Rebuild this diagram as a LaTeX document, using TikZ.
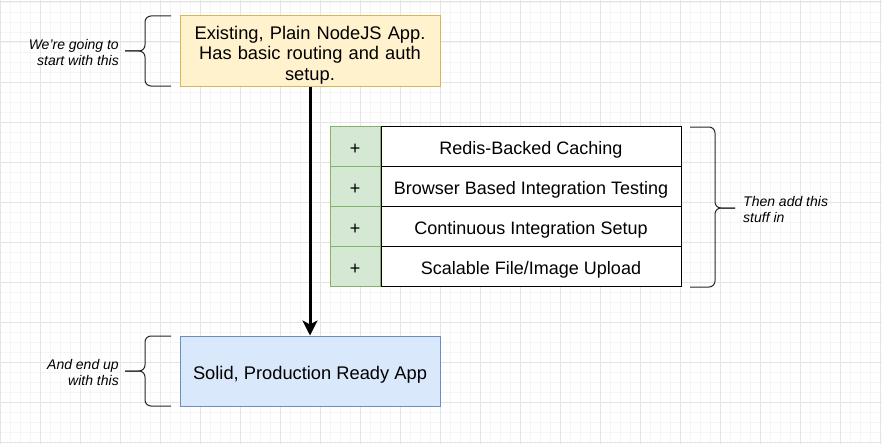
\documentclass[tikz,border=0pt]{standalone}
\usepackage{fontspec}
\setmainfont{Liberation Sans}
\usetikzlibrary{arrows.meta}

\definecolor{gridminor}{HTML}{F5F5F5}
\definecolor{gridmajor}{HTML}{E4E4E4}
\definecolor{yellowfill}{HTML}{FFF2CC}
\definecolor{yellowline}{HTML}{D6B656}
\definecolor{bluefill}{HTML}{DAE8FC}
\definecolor{blueline}{HTML}{6C8EBF}
\definecolor{greenfill}{HTML}{D5E8D4}
\definecolor{greenline}{HTML}{82B366}

\tikzset{
  appbox/.style={draw, line width=1pt, minimum width=260pt, minimum height=70pt,
    inner sep=0pt},
  boxtext/.style={inner sep=0pt, align=center, text width=258pt,
    font=\fontsize{18.3}{20.5}\selectfont},
  oneline/.style={text height=16.6pt, text depth=0pt},
  pluscell/.style={draw=greenline, fill=greenfill, line width=1pt,
    minimum width=50pt, minimum height=40pt, inner sep=0pt, oneline,
    font=\fontsize{18}{20}\selectfont},
  itemcell/.style={draw=black, fill=white, line width=1pt,
    minimum width=300pt, minimum height=40pt, inner sep=0pt, oneline,
    font=\fontsize{18}{20}\selectfont},
  note/.style={inner sep=0pt, font=\itshape\fontsize{14}{16}\selectfont},
  brace/.style={draw=black!85, line width=1pt, rounded corners=6pt},
  flow/.style={draw=black, line width=3pt,
    -{Stealth[length=15pt, width=15pt, inset=4pt]}},
}

\begin{document}
\begin{tikzpicture}[x=1pt, y=-1pt]
\useasboundingbox (0,0) rectangle (882,444);
\fill[white] (0,0) rectangle (882,444);

% background grid
\foreach \gx in {0,10,...,880} \draw[gridminor, line width=0.8pt] (\gx,0) -- (\gx,444);
\foreach \gy in {2,12,...,442} \draw[gridminor, line width=0.8pt] (0,\gy) -- (882,\gy);
\foreach \gx in {0,40,...,880} \draw[gridmajor, line width=1pt] (\gx,0) -- (\gx,444);
\foreach \gy in {2,42,...,442} \draw[gridmajor, line width=1pt] (0,\gy) -- (882,\gy);

% main stages
\node[appbox, fill=yellowfill, draw=yellowline] (start) at (310,51) {};
\node[boxtext] (starttext) at (310,55)
  {Existing, Plain NodeJS App.\\Has basic routing and auth\\setup.};
\node[appbox, fill=bluefill, draw=blueline, oneline,
  font=\fontsize{18.3}{20.5}\selectfont] (finish) at (310,371)
  {Solid, Production Ready App};

\draw[flow] (start) -- (finish);

% feature list
\node[pluscell] (p1) at (355,146) {+};
\node[pluscell] (p2) at (355,186) {+};
\node[pluscell] (p3) at (355,226) {+};
\node[pluscell] (p4) at (355,266) {+};
\node[itemcell, anchor=west] (f1) at (p1.east) {Redis-Backed Caching};
\node[itemcell, anchor=west] (f2) at (p2.east) {Browser Based Integration Testing};
\node[itemcell, anchor=west] (f3) at (p3.east) {Continuous Integration Setup};
\node[itemcell, anchor=west] (f4) at (p4.east) {Scalable File/Image Upload};

% side notes
\node[note, anchor=east, align=right] (n1) at (119,52) {We're going to\\start with this};
\node[note, anchor=east, align=right] (n2) at (119,372) {And end up\\with this};
\node[note, anchor=west, align=left] (n3) at (743,209) {Then add this\\stuff in};

% curly braces
\draw[brace] (171,16) -| (145,51) -- (125,51);
\draw[brace] (171,86) -| (145,51) -- (125,51);
\draw[brace] (171,336) -| (145,371) -- (125,371);
\draw[brace] (171,406) -| (145,371) -- (125,371);
\draw[brace] (690,127) -| (715,208) -- (735,208);
\draw[brace] (690,287) -| (715,208) -- (735,208);
\end{tikzpicture}
\end{document}
